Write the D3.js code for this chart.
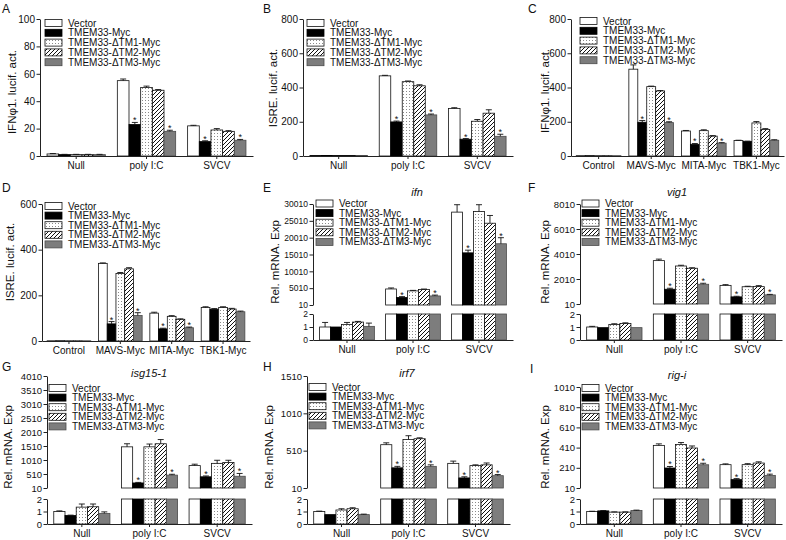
<!DOCTYPE html>
<html><head><meta charset="utf-8">
<script src="https://cdn.jsdelivr.net/npm/d3@7"></script>
<style>body{margin:0;background:#fff}svg{display:block}</style>
</head><body>
<script>
// ---------- DATA ----------
const seriesNames = ["Vector","TMEM33-Myc","TMEM33-\u0394TM1-Myc","TMEM33-\u0394TM2-Myc","TMEM33-\u0394TM3-Myc"];
const stimCats = ["Null","poly I:C","SVCV"];
const plasmidCats = ["Control","MAVS-Myc","MITA-Myc","TBK1-Myc"];

// rows = categories, columns = series (Vector, TMEM33, dTM1, dTM2, dTM3)
const aMean = [[1.5,1,1,1,1],[55,23,50,48,18],[22,10.5,19,18,11.5]];
const aErr  = [[0.3,0.2,0.2,0.2,0.2],[1.2,1.5,1,0.5,0.8],[0.4,0.6,1,0.5,0.6]];
const aStars = [[],[1,4],[1,4]];
const aTicks = [0,20,40,60,80,100];

const bMean = [[3,3,3,3,3],[468,199,434,410,240],[278,98,203,250,115]];
const bErr  = [[0,0,0,0,0],[3,5,4,6,5],[4,4,10,20,12]];
const bStars = [[],[1,4],[1,4]];
const bTicks = [0,200,400,600,800];

const cMean = [[2,2,2,2,2],[507,197,405,380,195],[146,68,148,116,75],[90,85,193,155,92]];
const cErr  = [[0,0,0,0,0],[25,10,3,2,5],[3,5,5,3,3],[2,2,8,5,3]];
const cStars = [[],[1,4],[1,4],[]];
const cTicks = [0,200,400,600,800];

const dMean = [[1,1,1,1,1],[340,75,296,316,112],[122,53,108,95,58],[147,139,147,140,128]];
const dErr  = [[0,0,0,0,0],[2,10,4,5,12],[4,3,3,2,3],[3,3,3,3,3]];
const dStars = [[],[1,4],[1,4],[]];
const dTicks = [0,200,400,600];

const eMean = [[1.0,1.0,1.2,1.38,1.05],[4770,2250,4200,4600,2700],[27600,15500,27800,24300,18200]];
const eErr  = [[0.35,0,0.15,0.05,0.25],[300,250,150,150,250],[2200,800,2000,2300,1800]];
const eStars = [[],[1,4],[1,4]];
const eTicks = [10,5010,10010,15010,20010,25010,30010];

const fMean = [[1.0,0.95,1.2,1.27,0.95],[3480,1190,3050,2870,1590],[1500,580,1390,1400,740]];
const fErr  = [[0.05,0,0.05,0.05,0],[120,80,60,40,80],[60,50,40,80,40]];
const fStars = [[],[1,4],[1,4]];
const fTicks = [10,2010,4010,6010,8010];

const gMean = [[1.0,0.68,1.35,1.38,0.85],[1480,190,1480,1590,470],[810,410,890,920,430]];
const gErr  = [[0.05,0.03,0.25,0.22,0.12],[110,20,100,150,30],[50,30,110,80,100]];
const gStars = [[],[1,4],[1,4]];
const gTicks = [10,510,1010,1510,2010,2510,3010,3510,4010];

const hMean = [[1.0,0.75,1.12,1.22,0.75],[590,280,660,670,300],[340,145,310,320,175]];
const hErr  = [[0.03,0,0.1,0.08,0.04],[25,20,50,12,20],[30,15,10,25,15]];
const hStars = [[],[1,4],[1,4]];
const hTicks = [10,510,1010,1510];

const iMean = [[1.0,1.05,0.95,0.95,1.08],[432,208,440,406,240],[241,93,241,257,135]];
const iErr  = [[0.02,0.03,0.02,0.02,0.03],[15,15,20,20,15],[8,10,10,12,12]];
const iStars = [[],[1,4],[1,4]];
const iTicks = [10,210,410,610,810,1010];

// ---------- DRAWING ----------
const FONT = "'Liberation Sans', Arial, Helvetica, sans-serif";
const svg = d3.select("body").append("svg").attr("width",786).attr("height",540)
  .style("font-family",FONT);

const defs = svg.append("defs");
const dots = defs.append("pattern").attr("id","dots").attr("patternUnits","userSpaceOnUse")
  .attr("width",3).attr("height",3);
dots.append("rect").attr("width",3).attr("height",3).attr("fill","#fff");
dots.append("rect").attr("x",1).attr("y",1).attr("width",1).attr("height",1).attr("fill","#8a8a8a");
const hatch = defs.append("pattern").attr("id","hatch").attr("patternUnits","userSpaceOnUse")
  .attr("width",4).attr("height",4);
hatch.append("rect").attr("width",4).attr("height",4).attr("fill","#fff");
hatch.append("path").attr("d","M-1,1 L1,-1 M0,4 L4,0 M3,5 L5,3").attr("stroke","#111").attr("stroke-width",1);

const fills = ["#ffffff","#000000","url(#dots)","url(#hatch)","#7d7d7d"];
const strokes = ["#111","#000","#111","#111","#4a4a4a"];

function styleAxis(fs){
  return sel=>{
    sel.attr("font-family",FONT).attr("font-size",fs);
    sel.selectAll("path,line").attr("stroke","#222");
    sel.selectAll("text").attr("fill","#111");
  };
}

function panel(c){
  const g = svg.append("g");
  const x = d3.scaleBand().domain(c.cats).range([c.x0,c.x1]).paddingInner(c.pi||0.17).paddingOuter(c.po||0.1);
  const xs = d3.scaleBand().domain(d3.range(5)).range([0,x.bandwidth()]);
  let segs, base;
  if(c.broken){
    segs = [
      {y:d3.scaleLinear().domain([c.ticks[0],c.ticks[c.ticks.length-1]]).range([c.ub,c.ut]),ticks:c.ticks,lo:c.ticks[0],hi:Infinity},
      {y:d3.scaleLinear().domain([0,2]).range([c.lb,c.lt]),ticks:[0,1,2],lo:0,hi:2}
    ];
    base = c.lb;
  } else {
    segs = [{y:d3.scaleLinear().domain([0,c.ticks[c.ticks.length-1]]).range([c.yb,c.yt]),ticks:c.ticks,lo:0,hi:Infinity}];
    base = c.yb;
  }
  // bars
  c.cats.forEach((cat,ci)=>{
    c.mean[ci].forEach((v,si)=>{
      const bx = x(cat)+xs(si), bw = xs.bandwidth();
      segs.forEach(s=>{
        if(v<=s.lo) return;
        const top = Math.min(v,s.hi);
        g.append("rect").attr("x",bx).attr("y",s.y(top)).attr("width",bw)
          .attr("height",Math.max(0,s.y(s.lo)-s.y(top)))
          .attr("fill",fills[si]).attr("stroke",strokes[si]).attr("stroke-width",0.8);
      });
      const s = segs.find(s=>v>s.lo && v<=s.hi) || segs[segs.length-1];
      const e = c.err[ci][si];
      const cx = bx+bw/2;
      const yTop = s.y(v+e);
      if(e>0){
        g.append("line").attr("x1",cx).attr("x2",cx).attr("y1",s.y(v)).attr("y2",yTop).attr("stroke","#111").attr("stroke-width",0.9);
        g.append("line").attr("x1",cx-3).attr("x2",cx+3).attr("y1",yTop).attr("y2",yTop).attr("stroke","#111").attr("stroke-width",0.9);
      }
      if(c.stars[ci].includes(si)){
        g.append("text").attr("x",cx).attr("y",yTop+1).attr("text-anchor","middle")
          .attr("font-size",9).attr("fill","#111").text("*");
      }
    });
  });
  // axes
  segs.forEach(s=>{
    g.append("g").attr("transform",`translate(${c.x0},0)`)
      .call(d3.axisLeft(s.y).tickValues(s.ticks).tickSize(3.5).tickPadding(1.5).tickSizeOuter(0).tickFormat(d3.format("d")))
      .call(styleAxis(c.tfs||10));
  });
  g.append("g").attr("transform",`translate(0,${base})`)
    .call(d3.axisBottom(x).tickSize(3).tickSizeOuter(0)).call(styleAxis(10));
  // y label
  g.append("text").attr("transform",`translate(${c.labX},${c.labY}) rotate(-90)`)
    .attr("text-anchor","middle").attr("font-size",11.5).attr("fill","#111").text(c.ylab);
  // title
  if(c.title){
    g.append("text").attr("x",c.title[1]).attr("y",c.title[2]).attr("text-anchor","middle")
      .attr("font-size",11).attr("font-style","italic").attr("fill","#111").text(c.title[0]);
  }
  // panel letter
  g.append("text").attr("x",c.letter[1]).attr("y",c.letter[2]).attr("font-size",12).attr("fill","#111").text(c.letter[0]);
  // legend
  const [lx,ly,sp] = c.legend;
  seriesNames.forEach((n,si)=>{
    g.append("rect").attr("x",lx).attr("y",ly+si*sp-3.5).attr("width",17).attr("height",7)
      .attr("fill",fills[si]).attr("stroke",strokes[si]).attr("stroke-width",0.8);
    g.append("text").attr("x",lx+23).attr("y",ly+si*sp).attr("dy","0.35em")
      .attr("font-size",10).attr("fill","#111").text(n);
  });
}

panel({cats:stimCats,mean:aMean,err:aErr,stars:aStars,ticks:aTicks,x0:40,x1:253,yt:19,yb:156,
  ylab:"IFN\u03C61. lucif. act.",labX:16,labY:92,letter:["A",2,13],legend:[45,23,9.8]});
panel({cats:stimCats,mean:bMean,err:bErr,stars:bStars,ticks:bTicks,x0:303,x1:513,yt:19,yb:156,
  ylab:"ISRE. lucif. act.",labX:277,labY:88,letter:["B",263,13],legend:[307,23,9.8]});
panel({cats:plasmidCats,mean:cMean,err:cErr,stars:cStars,ticks:cTicks,x0:571,x1:784,yt:19,yb:156,pi:0.15,po:0.1,
  ylab:"IFN\u03C61. lucif. act.",labX:549,labY:91,letter:["C",528,13],legend:[580,21,9.8]});
panel({cats:plasmidCats,mean:dMean,err:dErr,stars:dStars,ticks:dTicks,x0:42,x1:250,yt:204,yb:341,pi:0.15,po:0.1,
  ylab:"ISRE. lucif. act.",labX:14,labY:262,letter:["D",2,192],legend:[45,206,9.6]});
panel({cats:stimCats,mean:eMean,err:eErr,stars:eStars,ticks:eTicks,x0:313,x1:513,broken:true,ut:204,ub:305,lt:314,lb:340,tfs:8.5,
  ylab:"Rel. mRNA. Exp",labX:279,labY:262,title:["ifn",417,196],letter:["E",263,192],legend:[316,203.5,9.6]});
panel({cats:stimCats,mean:fMean,err:fErr,stars:fStars,ticks:fTicks,x0:580,x1:782,broken:true,ut:204,ub:304,lt:314,lb:340,tfs:9.5,
  ylab:"Rel. mRNA. Exp",labX:549,labY:262,title:["vig1",677,196],letter:["F",528,192],legend:[582,203.5,9.6]});
panel({cats:stimCats,mean:gMean,err:gErr,stars:gStars,ticks:gTicks,x0:47,x1:252,broken:true,ut:376,ub:488,lt:499,lb:524,tfs:9.5,
  ylab:"Rel. mRNA. Exp",labX:12,labY:447,title:["isg15-1",149,377],letter:["G",2,371],legend:[49,388,9.6]});
panel({cats:stimCats,mean:hMean,err:hErr,stars:hStars,ticks:hTicks,x0:307,x1:510,broken:true,ut:376,ub:488,lt:499,lb:524,tfs:9.5,
  ylab:"Rel. mRNA. Exp",labX:273,labY:447,title:["irf7",407,377],letter:["H",263,371],legend:[49+260,387,9.6]});
panel({cats:stimCats,mean:iMean,err:iErr,stars:iStars,ticks:iTicks,x0:580,x1:782,broken:true,ut:387,ub:488,lt:499,lb:524,tfs:9.5,
  ylab:"Rel. mRNA. Exp",labX:549,labY:447,title:["rig-i",677,379],letter:["I",530,373],legend:[582,388,9.6]});
</script>
</body></html>
